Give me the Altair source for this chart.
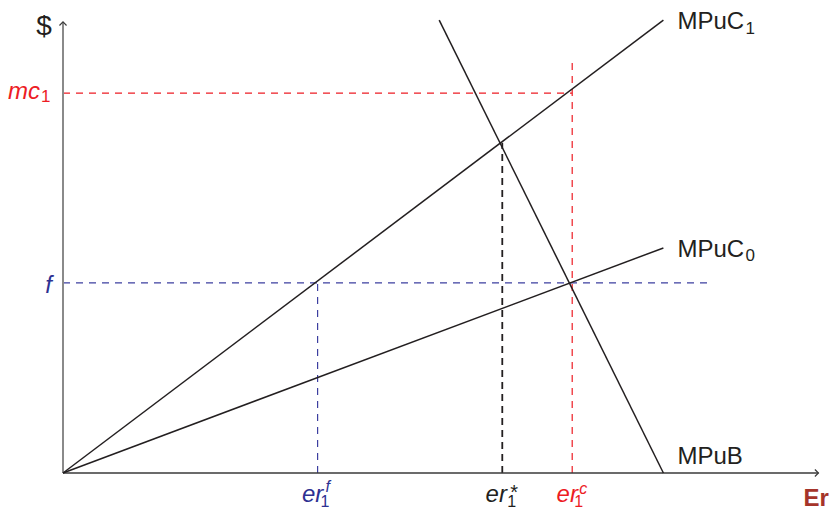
import altair as alt
import pandas as pd

# ---- economic diagram values (abstract units, x and y on 0..100) ----
curve_names = ["MPuC1", "MPuC0", "MPuB"]
curve_x0 = [0, 0, 49.5]
curve_y0 = [0, 0, 97.4]
curve_x1 = [79, 79, 79]
curve_y1 = [97.4, 48.4, 0]

mc1 = 81.7        # red horizontal level
er1c = 67.0       # red vertical
mc1_top = 88.8
f_level = 40.9    # blue horizontal level
f_right = 85.1
er1f = 33.5       # blue vertical
er1s = 57.8       # black vertical (er1*)
er1s_y = 71.0
x_axis_end = 99.4
y_axis_end = 97.0

W, H = 760, 465
xs = alt.Scale(domain=[0, 100], nice=False, zero=False)
ys = alt.Scale(domain=[0, 100], nice=False, zero=False)
FONT = "Liberation Sans"
INK = "#231f20"
RED = "#ed1c24"
BLUE = "#2e3192"
ERC = "#a5342a"


def seg(x0, y0, x1, y1, color, width, dash=None):
    df = pd.DataFrame({"x0": x0, "y0": y0, "x1": x1, "y1": y1})
    kw = dict(color=color, strokeWidth=width)
    if dash:
        kw["strokeDash"] = dash
    return alt.Chart(df).mark_rule(**kw).encode(
        x=alt.X("x0:Q", scale=xs, axis=None),
        y=alt.Y("y0:Q", scale=ys, axis=None),
        x2="x1:Q",
        y2="y1:Q",
    )


def txt(x, y, text, dx, dy, size, color=INK, style="normal", weight="normal", align="left"):
    df = pd.DataFrame({"x": [x], "y": [y], "t": [text]})
    return alt.Chart(df).mark_text(
        dx=dx, dy=dy, fontSize=size, color=color, fontStyle=style,
        fontWeight=weight, align=align, baseline="alphabetic", font=FONT,
    ).encode(
        x=alt.X("x:Q", scale=xs, axis=None),
        y=alt.Y("y:Q", scale=ys, axis=None),
        text="t:N",
    )


def arrow(x, y, path, color):
    df = pd.DataFrame({"x": [x], "y": [y]})
    return alt.Chart(df).mark_point(
        shape=path, size=50, filled=False, stroke=color, strokeWidth=1.2, opacity=1
    ).encode(
        x=alt.X("x:Q", scale=xs, axis=None),
        y=alt.Y("y:Q", scale=ys, axis=None),
    )


layers = [
    # dashed guides
    seg([0], [mc1], [er1c], [mc1], RED, 1.2, [7, 6]),
    seg([er1c], [0], [er1c], [mc1_top], RED, 1.2, [7, 6]),
    seg([0], [f_level], [f_right], [f_level], "#3c3fa0", 1.2, [7, 6]),
    seg([er1f], [0], [er1f], [f_level], "#3c3fa0", 1.2, [7, 6]),
    seg([er1s], [0], [er1s], [er1s_y], INK, 1.8, [7, 5]),
    # axes
    seg([0], [0], [0], [y_axis_end], "#8a8a8a", 2),
    seg([0], [0], [x_axis_end], [0], "#3a3a3a", 1.4),
    arrow(0, y_axis_end, "M -1 1 L 0 0 L 1 1", "#3a3a3a"),
    arrow(x_axis_end, 0, "M -1 -1 L 0 0 L -1 1", "#3a3a3a"),
    # curves
    seg(curve_x0, curve_y0, curve_x1, curve_y1, INK, 1.5),
    # curve labels
    txt(curve_x1[0], curve_y1[0], "MPuC", 14, 9, 24),
    txt(curve_x1[0], curve_y1[0], "1", 82, 14, 17),
    txt(curve_x1[1], curve_y1[1], "MPuC", 14, 9, 24),
    txt(curve_x1[1], curve_y1[1], "0", 82, 13, 17),
    txt(curve_x1[2], curve_y1[2], "MPuB", 14, -9, 24),
    # y-axis labels
    txt(0, y_axis_end, "$", -19, 13, 28, align="center"),
    txt(0, mc1, "mc", -23, 6, 24, color=RED, style="italic", align="right"),
    txt(0, mc1, "1", -22, 9, 17, color=RED),
    txt(0, f_level, "f", -11, 10, 24, color=BLUE, style="italic", align="right"),
    # x-axis labels
    txt(er1f, 0, "er", -5, 29, 24, color=BLUE, style="italic", align="center"),
    txt(er1f, 0, "1", 3, 34, 16, color=BLUE),
    txt(er1f, 0, "f", 8, 19, 16, color=BLUE, style="italic"),
    txt(er1s, 0, "er", -6, 29, 24, color=INK, style="italic", align="center"),
    txt(er1s, 0, "1", 5, 34, 16, color=INK),
    txt(er1s, 0, "*", 8, 26, 20, color=INK),
    txt(er1c, 0, "er", -5, 29, 24, color=RED, style="italic", align="center"),
    txt(er1c, 0, "1", 2, 34, 16, color=RED),
    txt(er1c, 0, "c", 7, 21, 16, color=RED, style="italic"),
    txt(x_axis_end, 0, "Er", -15, 33, 24, color=ERC, weight="bold"),
]

chart = alt.layer(*layers).properties(
    width=W,
    height=H,
    padding={"left": 55, "top": 0, "right": 7, "bottom": 35},
    autosize=alt.AutoSizeParams(type="none"),
    background="white",
).configure_view(stroke=None)

chart.save("out.html", embed_options={"renderer": "svg", "actions": False})
